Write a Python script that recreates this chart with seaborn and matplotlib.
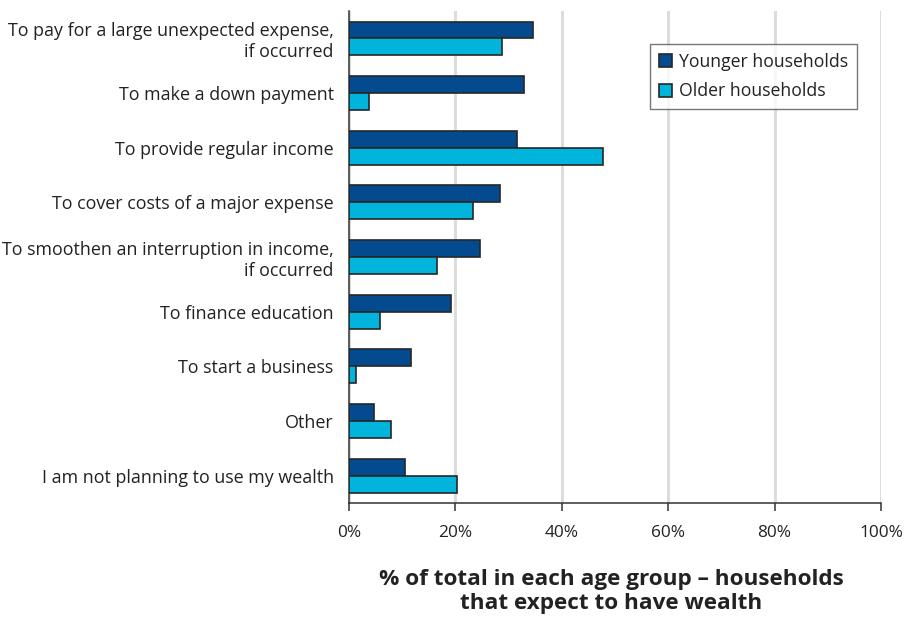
import matplotlib
matplotlib.use("Agg")
import matplotlib.pyplot as plt
import seaborn as sns
import pandas as pd
from matplotlib.ticker import FixedLocator, PercentFormatter

categories = [
    "To pay for a large unexpected expense,\nif occurred",
    "To make a down payment",
    "To provide regular income",
    "To cover costs of a major expense",
    "To smoothen an interruption in income,\nif occurred",
    "To finance education",
    "To start a business",
    "Other",
    "I am not planning to use my wealth",
]
younger = [34.6, 32.9, 31.6, 28.4, 24.6, 19.2, 11.7, 4.7, 10.5]
older = [28.8, 3.8, 47.7, 23.3, 16.5, 5.8, 1.3, 7.9, 20.3]
series_names = ["Younger households", "Older households"]
x_ticks = [0, 20, 40, 60, 80, 100]

df = pd.DataFrame({
    "category": categories * 2,
    "value": younger + older,
    "group": [series_names[0]] * len(categories) + [series_names[1]] * len(categories),
})

sns.set_theme(style="white")
plt.rcParams["font.family"] = ["Open Sans", "DejaVu Sans"]

fig = plt.figure(figsize=(9.17, 6.18), dpi=100)
ax = fig.add_axes([0.3806, 0.186, 0.5801, 0.796])

palette = {series_names[0]: "#034A8F", series_names[1]: "#00B4DC"}
sns.barplot(data=df, y="category", x="value", hue="group", order=categories,
            hue_order=series_names, palette=palette, orient="h", width=0.62,
            edgecolor="#262626", linewidth=1.2, saturation=1, ax=ax, zorder=3)

ax.set_xlim(0, 100)
ax.set_ylim(len(categories) - 0.5, -0.5)
ax.xaxis.set_major_locator(FixedLocator(x_ticks))
ax.xaxis.set_major_formatter(PercentFormatter(decimals=0))
ax.grid(axis="x", color="#dcdcdc", linewidth=2.2, zorder=0)
ax.grid(axis="y", visible=False)

for s in ["top", "right"]:
    ax.spines[s].set_visible(False)
for s in ["left", "bottom"]:
    ax.spines[s].set_color("#333333")
    ax.spines[s].set_linewidth(1.1)

ax.set_yticks(range(len(categories)))
ax.set_yticklabels(categories, fontsize=12.9, color="#222222", linespacing=1.2)
ax.tick_params(axis="y", which="major", length=0, pad=11)
ax.set_yticks([i - 0.5 for i in range(len(categories) + 1)], minor=True)
ax.tick_params(axis="y", which="minor", length=5, width=1.1, color="#333333", direction="out")
ax.tick_params(axis="x", which="major", length=6, width=1.1, color="#333333",
               direction="out", labelsize=12.4, labelcolor="#222222", pad=10, bottom=True)

ax.set_xlabel("% of total in each age group – households\nthat expect to have wealth",
              fontsize=16.2, fontweight="bold", color="#222222", labelpad=18, linespacing=1.15)
ax.xaxis.set_label_coords(0.493, -0.135)
ax.set_ylabel("")

leg = ax.legend(loc="upper right", bbox_to_anchor=(0.955, 0.933), borderaxespad=0,
                frameon=True, fancybox=False, edgecolor="#555555", fontsize=12.7,
                handlelength=0.75, handleheight=0.75, handletextpad=0.4,
                borderpad=0.5, labelspacing=0.65)
leg.get_frame().set_linewidth(1.0)
for t in leg.get_texts():
    t.set_color("#222222")

fig.savefig("out.png", dpi=100, facecolor="white")
